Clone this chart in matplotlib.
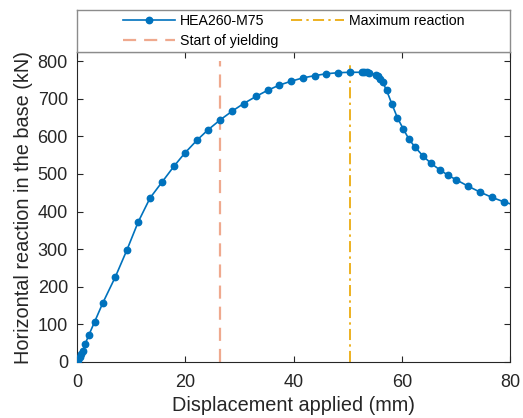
import matplotlib
matplotlib.use("Agg")
import matplotlib.pyplot as plt
from matplotlib.lines import Line2D

plt.rcParams['font.family'] = ['Liberation Sans', 'DejaVu Sans']

disp = [0.0, 0.25, 0.55, 0.74, 1.05, 1.48, 2.2, 3.26, 4.8, 7.08, 9.23,
        11.3, 13.5, 15.7, 17.9, 19.9, 22.2, 24.2, 26.5, 28.7, 30.8, 33.1,
        35.2, 37.4, 39.5, 41.7, 43.9, 46.0, 48.3, 50.4, 52.6, 53.0, 53.5,
        54.0, 55.2, 55.6, 56.0, 56.5, 57.2, 58.2, 59.2, 60.3, 61.3, 62.4,
        63.9, 65.4, 67.0, 68.6, 70.1, 72.3, 74.4, 76.6, 78.8, 81.0]
force = [0, 4, 12, 20, 29, 47, 72, 107, 158, 226, 298,
         372, 436, 478, 520, 555, 590, 617, 644, 667, 687, 706,
         722, 736, 746, 755, 761, 766, 769, 770, 770, 770, 770,
         769, 764, 759, 752, 743, 722, 685, 649, 619, 593, 572,
         548, 528, 511, 496, 484, 467, 452, 438, 426, 416]

x_yield = 26.5
x_max = 50.4
v_top = 800

blue = '#0072BD'
salmon = '#EFA98E'
yellow = '#EDB120'
dark = '#262626'

dash_y = (5.9, 3.6)
dash_m = (5.7, 2.2, 1.2, 2.2)

fig = plt.figure(figsize=(5.23, 4.18), dpi=100)
ax = fig.add_axes([77/523, 1-362/418, (510-77)/523, (362-52)/418])

ax.plot(disp, force, '-o', color=blue, lw=1.2, ms=4.6, zorder=3)
ax.plot([x_yield, x_yield], [0, v_top], color=salmon, lw=1.6,
        dashes=dash_y, zorder=2)
ax.plot([x_max, x_max], [0, v_top], color=yellow, lw=1.4,
        dashes=dash_m, zorder=2)

ax.set_xlim(0, 80)
ax.set_ylim(0, (362-52)/(362-61)*800)
ax.set_xticks([0, 20, 40, 60, 80])
ax.set_yticks(range(0, 801, 100))
ax.tick_params(direction='in', length=4, width=0.8, colors=dark,
               labelsize=13, top=True, right=True, labeltop=False, labelright=False)
ax.tick_params(axis='x', pad=8.5)
ax.tick_params(axis='y', pad=6.5)
for s in ax.spines.values():
    s.set_color(dark)
    s.set_linewidth(0.8)
ax.set_xlabel('Displacement applied (mm)', fontsize=14.3, color=dark, labelpad=4)
ax.set_ylabel('Horizontal reaction in the base (kN)', fontsize=14.3, color=dark, labelpad=3)

handles = [
    Line2D([], [], color=blue, marker='o', ms=4.6, lw=1.2),
    Line2D([], [], color=salmon, lw=1.6, dashes=dash_y),
    Line2D([], [], color=yellow, lw=1.4, dashes=dash_m),
]
labels = ['HEA260-M75', 'Start of yielding', 'Maximum reaction']
lax = fig.add_axes([77/523, 1-52/418, (510-77)/523, 42/418])
lax.set_xticks([]); lax.set_yticks([])
for s in lax.spines.values():
    s.set_color('#8c8c8c')
    s.set_linewidth(1.0)
lax.legend(handles, labels, ncol=2, loc='center', frameon=False,
           fontsize=10.2, handlelength=3.7, columnspacing=0.9,
           labelspacing=0.42, handletextpad=0.35, borderpad=0.1)

fig.savefig('out.png', dpi=100)
